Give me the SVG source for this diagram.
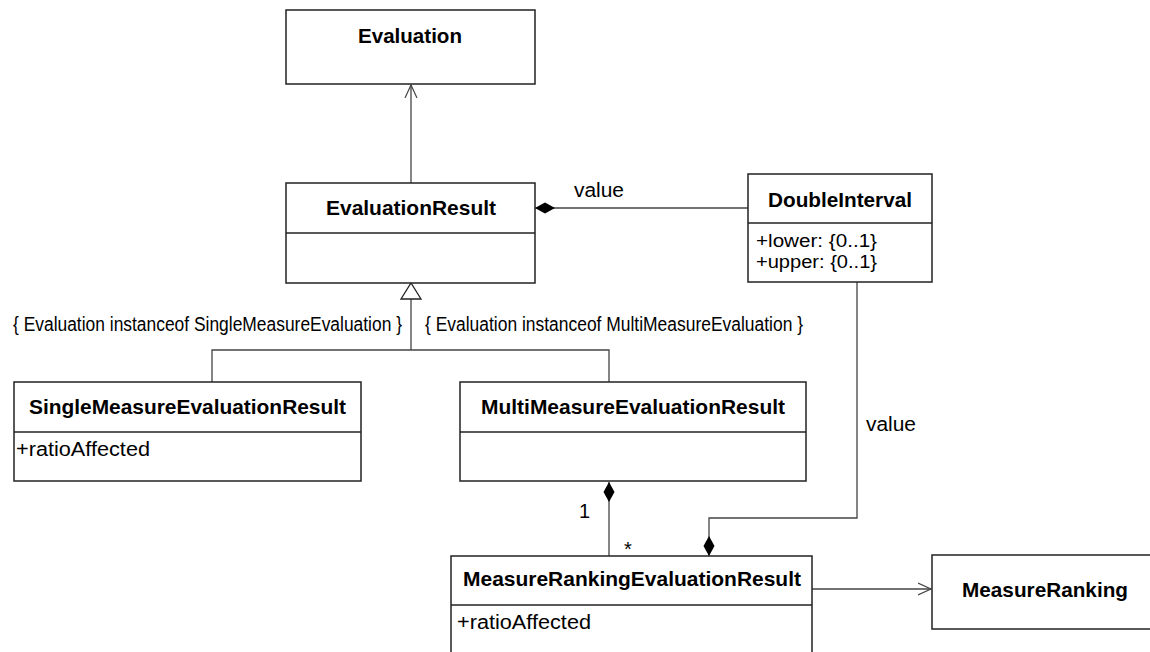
<svg xmlns="http://www.w3.org/2000/svg" width="1150" height="652" viewBox="0 0 1150 652">
<defs>
<style>
.box{fill:#fff;stroke:#222;stroke-width:1.5}
.div{stroke:#222;stroke-width:1.5}
.title{font-family:"Liberation Sans",Arial,sans-serif;font-weight:bold;font-size:20.5px;fill:#000}
.txt{font-family:"Liberation Sans",Arial,sans-serif;font-size:20px;fill:#000}
.attr{font-family:"Liberation Sans",Arial,sans-serif;font-size:18px;fill:#000}
.conn{fill:none;stroke:#444;stroke-width:1.3}
</style>
<marker id="open" markerUnits="userSpaceOnUse" markerWidth="16" markerHeight="16" refX="13" refY="6" orient="auto" viewBox="0 0 16 12">
<path d="M0,0 L13,6 L0,12" fill="none" stroke="#444" stroke-width="1.2"/>
</marker>
<marker id="diamondS" markerUnits="userSpaceOnUse" markerWidth="22" markerHeight="12" refX="0" refY="5.5" orient="auto" viewBox="0 0 22 11">
<path d="M0,5.5 L10,0 L20,5.5 L10,11 Z" fill="#000"/>
</marker>
<marker id="diamondE" markerUnits="userSpaceOnUse" markerWidth="22" markerHeight="12" refX="20" refY="5.5" orient="auto" viewBox="0 0 22 11">
<path d="M0,5.5 L10,0 L20,5.5 L10,11 Z" fill="#000"/>
</marker>
</defs>
<rect width="1150" height="652" fill="#fff"/>

<g id="connectors">
<path class="conn" d="M411,183 V85" marker-end="url(#open)"/>
<path class="conn" d="M535,208 H748" marker-start="url(#diamondS)"/>
<path class="conn" d="M411,350 V299"/>
<polygon points="401,299 421,299 411,283" fill="#fff" stroke="#222" stroke-width="1.3"/>
<path class="conn" d="M212,382 V350 H609 V382"/>
<path class="conn" d="M609,482 V556" marker-start="url(#diamondS)"/>
<path class="conn" d="M857,282 V518 H709 V556" marker-end="url(#diamondE)"/>
<path class="conn" d="M812,589 H931" marker-end="url(#open)"/>
<text class="txt" x="574" y="197" textLength="50" lengthAdjust="spacingAndGlyphs">value</text>
<text class="txt" x="866" y="431" textLength="50" lengthAdjust="spacingAndGlyphs">value</text>
<text class="txt" x="579" y="518">1</text>
<text class="txt" x="624" y="556">*</text>
<text class="txt" x="13" y="331" textLength="389" lengthAdjust="spacingAndGlyphs">{ Evaluation instanceof SingleMeasureEvaluation }</text>
<text class="txt" x="425" y="331" textLength="378" lengthAdjust="spacingAndGlyphs">{ Evaluation instanceof MultiMeasureEvaluation }</text>
</g>

<g id="Evaluation">
<rect class="box" x="286" y="10" width="249" height="74"/>
<text class="title" x="358" y="43" textLength="104" lengthAdjust="spacingAndGlyphs">Evaluation</text>
</g>

<g id="EvaluationResult">
<rect class="box" x="286" y="183" width="249" height="100"/>
<line class="div" x1="286" y1="233" x2="535" y2="233"/>
<text class="title" x="326" y="215" textLength="170" lengthAdjust="spacingAndGlyphs">EvaluationResult</text>
</g>

<g id="DoubleInterval">
<rect class="box" x="748" y="174" width="184" height="108"/>
<line class="div" x1="748" y1="223" x2="932" y2="223"/>
<text class="title" x="768" y="207" textLength="144" lengthAdjust="spacingAndGlyphs">DoubleInterval</text>
<text class="attr" x="756" y="247" textLength="121" lengthAdjust="spacingAndGlyphs">+lower: {0..1}</text>
<text class="attr" x="756" y="268" textLength="121" lengthAdjust="spacingAndGlyphs">+upper: {0..1}</text>
</g>

<g id="SingleMeasureEvaluationResult">
<rect class="box" x="14" y="382" width="347" height="99"/>
<line class="div" x1="14" y1="432" x2="361" y2="432"/>
<text class="title" x="29" y="414" textLength="317" lengthAdjust="spacingAndGlyphs">SingleMeasureEvaluationResult</text>
<text class="txt" x="16" y="456" textLength="134" lengthAdjust="spacingAndGlyphs">+ratioAffected</text>
</g>

<g id="MultiMeasureEvaluationResult">
<rect class="box" x="460" y="382" width="346" height="99"/>
<line class="div" x1="460" y1="432" x2="806" y2="432"/>
<text class="title" x="481" y="414" textLength="304" lengthAdjust="spacingAndGlyphs">MultiMeasureEvaluationResult</text>
</g>

<g id="MeasureRankingEvaluationResult">
<rect class="box" x="451" y="556" width="361" height="110"/>
<line class="div" x1="451" y1="605" x2="812" y2="605"/>
<text class="title" x="463" y="586" textLength="338" lengthAdjust="spacingAndGlyphs">MeasureRankingEvaluationResult</text>
<text class="txt" x="457" y="629" textLength="134" lengthAdjust="spacingAndGlyphs">+ratioAffected</text>
</g>

<g id="MeasureRanking">
<rect class="box" x="932" y="555" width="240" height="74"/>
<text class="title" x="962" y="597" textLength="166" lengthAdjust="spacingAndGlyphs">MeasureRanking</text>
</g>
</svg>
